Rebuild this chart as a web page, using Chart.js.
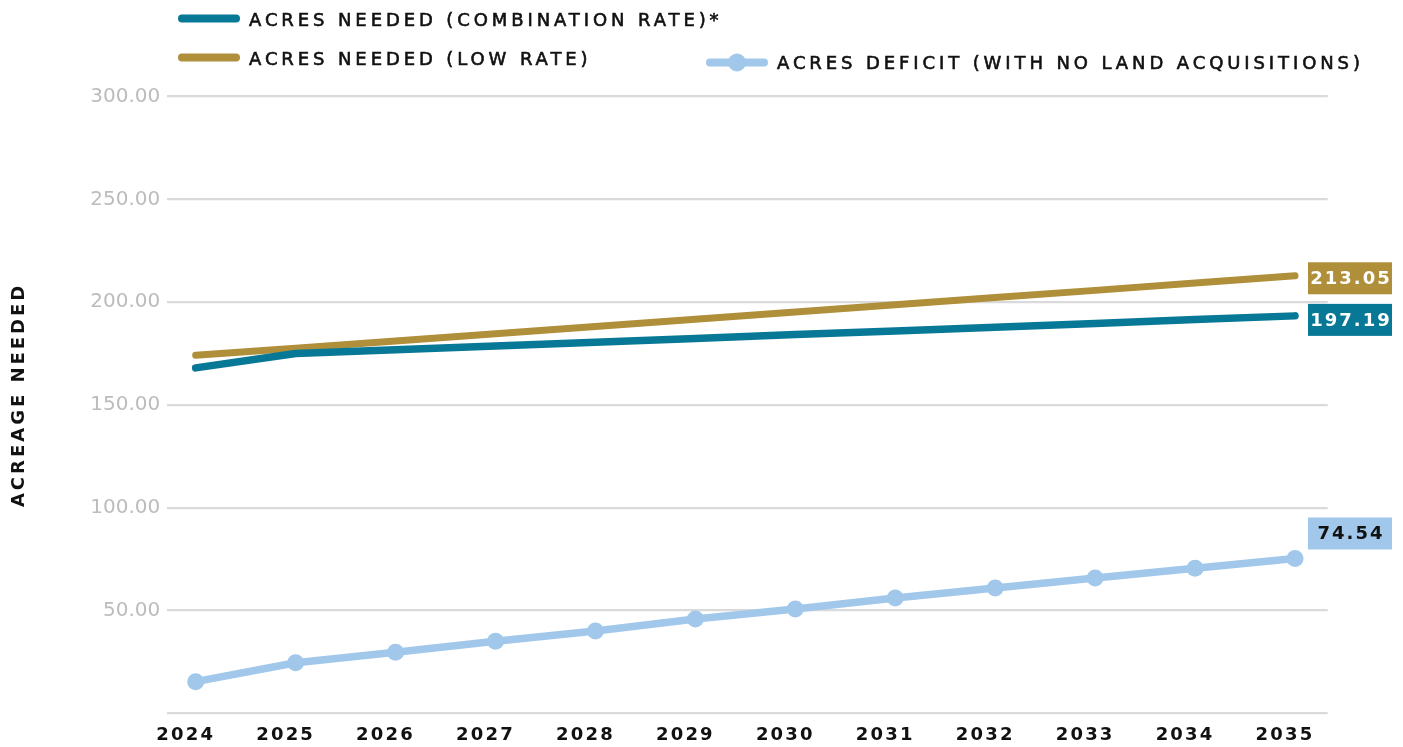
<!DOCTYPE html>
<html><head><meta charset="utf-8">
<script src="https://cdn.jsdelivr.net/npm/chart.js@4"></script>
<style>
html,body{margin:0;padding:0;background:#fff;}
#wrap{position:relative;width:1403px;height:747px;overflow:hidden;background:#fff;}
#c{position:absolute;left:0;top:0;}
.lg{position:absolute;display:flex;align-items:center;font-family:"DejaVu Sans",sans-serif;font-size:18px;letter-spacing:3.9px;color:#111;white-space:nowrap;transform:translateY(-50%);-webkit-text-stroke:0.6px #111;}
.sw{position:relative;width:62px;height:8px;border-radius:4px;margin-right:9px;flex:none;}
.dot{position:absolute;left:50%;top:50%;width:18px;height:18px;border-radius:50%;transform:translate(-50%,-50%);}
</style></head>
<body><div id="wrap"><canvas id="c" width="1403" height="747"></canvas><div id="legend"></div></div>
<script>
// ---- data ----
const years = [2024, 2025, 2026, 2027, 2028, 2029, 2030, 2031, 2032, 2033, 2034, 2035];
const combinationRate = [168.0, 175.0, 176.8, 178.7, 180.5, 182.3, 184.2, 186.0, 187.8, 189.6, 191.5, 193.3];
const lowRate = [174.1, 177.6, 181.1, 184.6, 188.1, 191.7, 195.2, 198.7, 202.2, 205.7, 209.3, 212.8];
const deficit = [15.4, 24.6, 29.7, 35.0, 40.0, 45.9, 50.7, 56.1, 60.9, 65.8, 70.5, 75.3];
const seriesNames = ['ACRES NEEDED (COMBINATION RATE)*', 'ACRES NEEDED (LOW RATE)', 'ACRES DEFICIT (WITH NO LAND ACQUISITIONS)'];
const endLabelTexts = ['197.19', '213.05', '74.54'];
const yAxisTitle = 'ACREAGE NEEDED';

// ---- styles ----
const TEAL = '#077896', GOLD = '#b08f3a', LIGHT = '#a1c8ea';
const LABEL_SHIFT = 0.10;

const endLabelPlugin = {
  id: 'endLabels',
  afterDatasetsDraw(chart) {
    const ctx = chart.ctx;
    chart.data.datasets.forEach((ds, i) => {
      const meta = chart.getDatasetMeta(i);
      const pt = meta.data[meta.data.length - 1];
      const o = ds.endLabel;
      const w = 84, h = 32, x = pt.x + 13, yc = pt.y + o.dy;
      ctx.save();
      ctx.fillStyle = o.bg;
      ctx.fillRect(x, yc - h / 2, w, h);
      ctx.font = 'bold 18px "DejaVu Sans"';
      ctx.letterSpacing = '2px';
      ctx.textAlign = 'center';
      ctx.textBaseline = 'middle';
      ctx.fillStyle = o.color;
      ctx.fillText(o.text, x + w / 2 + 1, yc + 1);
      ctx.restore();
    });
  }
};

const spacingPatch = {
  id: 'spacingPatch',
  beforeDraw(chart) {
    const xs = chart.scales.x, ys = chart.scales.y;
    if (!xs._lsPatched) {
      const o = xs.drawLabels;
      xs.drawLabels = function (a) { const c = this.ctx; c.save(); c.letterSpacing = '2.2px'; o.call(this, a); c.restore(); };
      xs._lsPatched = true;
    }
    if (!ys._lsPatched) {
      const o = ys.drawTitle;
      ys.drawTitle = function () { const c = this.ctx; c.save(); c.letterSpacing = '3px'; c.translate(0, -10); o.call(this); c.restore(); };
      ys._lsPatched = true;
    }
  }
};

const chart = new Chart(document.getElementById('c'), {
  type: 'line',
  data: {
    labels: years,
    datasets: [
      { label: seriesNames[0], data: combinationRate, borderColor: TEAL, backgroundColor: TEAL, borderWidth: 7.5, pointRadius: 0,
        endLabel: { text: endLabelTexts[0], bg: TEAL, color: '#ffffff', dy: 4 } },
      { label: seriesNames[1], data: lowRate, borderColor: GOLD, backgroundColor: GOLD, borderWidth: 7, pointRadius: 0,
        endLabel: { text: endLabelTexts[1], bg: GOLD, color: '#ffffff', dy: 2.5 } },
      { label: seriesNames[2], data: deficit, borderColor: LIGHT, backgroundColor: LIGHT, borderWidth: 7.5, pointRadius: 8.5, pointBorderWidth: 0,
        endLabel: { text: endLabelTexts[2], bg: LIGHT, color: '#111111', dy: -25 } }
    ]
  },
  options: {
    responsive: false,
    animation: false,
    devicePixelRatio: 1,
    layout: { padding: { top: 96.5, right: 75.3, bottom: 0, left: 0 } },
    elements: { line: { tension: 0, borderCapStyle: 'round', borderJoinStyle: 'round' } },
    plugins: { legend: { display: false }, tooltip: { enabled: false } },
    scales: {
      x: {
        type: 'linear',
        min: 2023.716,
        max: 2035.327,
        afterBuildTicks: (s) => { s.ticks = years.map(v => ({ value: v - LABEL_SHIFT })); },
        afterFit: (s) => { s.height = 33.7; },
        grid: { display: false, drawTicks: false },
        border: { display: false },
        ticks: {
          padding: 11,
          color: '#111111',
          font: { family: 'DejaVu Sans', size: 18, weight: 'bold' },
          maxRotation: 0,
          autoSkip: false,
          callback: (v) => String(Math.round(v))
        }
      },
      y: {
        min: 0,
        max: 300,
        afterFit: (s) => { s.width = 167.3; },
        grid: { color: '#dadada', lineWidth: 2.2, drawTicks: false },
        border: { display: false },
        ticks: {
          stepSize: 50,
          padding: 7,
          color: '#bcbcbc',
          font: { family: 'DejaVu Sans', size: 20 },
          callback: (v) => v === 0 ? '' : Number(v).toFixed(2)
        },
        title: {
          display: true,
          text: yAxisTitle,
          color: '#111111',
          font: { family: 'DejaVu Sans', size: 18, weight: 'bold' },
          padding: { top: 8.5, bottom: 0 }
        }
      }
    }
  },
  plugins: [spacingPatch, endLabelPlugin]
});

// ---- HTML legend built from the chart's datasets ----
const legendSpots = [
  { left: 178, cy: 18.5 },
  { left: 178, cy: 57.5 },
  { left: 706, cy: 62 }
];
const legendEl = document.getElementById('legend');
chart.data.datasets.forEach((ds, i) => {
  const item = document.createElement('div');
  item.className = 'lg';
  item.style.left = legendSpots[i].left + 'px';
  item.style.top = legendSpots[i].cy + 'px';
  const sw = document.createElement('span');
  sw.className = 'sw';
  sw.style.background = ds.borderColor;
  if (ds.pointRadius > 0) {
    const d = document.createElement('span');
    d.className = 'dot';
    d.style.background = ds.borderColor;
    sw.appendChild(d);
  }
  const tx = document.createElement('span');
  tx.textContent = ds.label;
  item.appendChild(sw);
  item.appendChild(tx);
  legendEl.appendChild(item);
});
</script>
</body></html>
